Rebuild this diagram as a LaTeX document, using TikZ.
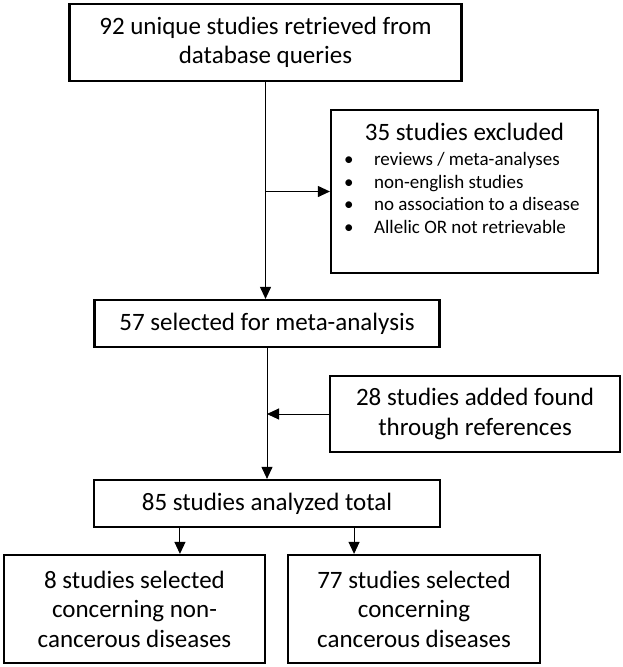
\documentclass[tikz,border=0pt]{standalone}
\usepackage{fontspec}
\setmainfont{Carlito}
\usetikzlibrary{arrows.meta,calc}
\begin{document}
\begin{tikzpicture}[x=1pt,y=-1pt,
  box/.style={draw, line width=2.2pt, inner sep=0pt, align=center, font=\fontsize{25}{29.5}\selectfont},
  conn/.style={line width=1pt, -{Triangle[length=12pt,width=11pt]}},
  item/.style={anchor=base west, inner sep=0pt, font=\fontsize{19}{22.7}\selectfont},
  ttl/.style={anchor=base, inner sep=0pt, font=\fontsize{25}{29.5}\selectfont}]
\fill[white] (0,0) rectangle (622,667);
\useasboundingbox (0,0) rectangle (622,667);
% boxes
\node[box, minimum width=392pt, minimum height=77.5pt] (b1) at (265.5,42.5) {92 unique studies retrieved from\\database queries};
\node[box, minimum width=267pt, minimum height=163pt] (excl) at (464.5,191.5) {};
\node[box, minimum width=345pt, minimum height=47pt] (b57) at (267,323.5) {57 selected for meta-analysis};
\node[box, minimum width=290pt, minimum height=76pt] (b28) at (475,414) {28 studies added found\\through references};
\node[box, minimum width=346pt, minimum height=47pt] (b85) at (267,503.5) {85 studies analyzed total};
\node[box, minimum width=261pt, minimum height=108pt] (b8) at (134.5,609) {8 studies selected\\concerning non-\\cancerous diseases};
\node[box, minimum width=252pt, minimum height=108pt] (b77) at (414,609) {77 studies selected\\concerning\\cancerous diseases};
% contents of excluded box
\node[ttl] (exT) at ($(excl.north)+(0,32)$) {35 studies excluded};
\node[item] (ex1) at ($(excl.north west)+(14,57)$) {\makebox[30pt][l]{\textbullet}reviews / meta-analyses};
\node[item] (ex2) at ($(excl.north west)+(14,79.5)$) {\makebox[30pt][l]{\textbullet}non-english studies};
\node[item] (ex3) at ($(excl.north west)+(14,102)$) {\makebox[30pt][l]{\textbullet}no association to a disease};
\node[item] (ex4) at ($(excl.north west)+(14,124.5)$) {\makebox[30pt][l]{\textbullet}Allelic OR not retrievable};
% connectors
\draw[conn] (b1.south) -- (b1.south |- b57.north);
\coordinate (j1) at (b1.south |- excl.west);
\draw[conn] (j1) -- (excl.west);
\draw[conn] (b28.west) -- (b28.west -| b57.south);
\draw[conn] (b57.south) -- (b57.south |- b85.north);
\coordinate (s1) at ($(b85.south west)!0.25!(b85.south east)$);
\coordinate (s2) at ($(b85.south west)!0.75!(b85.south east)$);
\draw[conn] (s1) -- (s1 |- b8.north);
\draw[conn] (s2) -- (s2 |- b77.north);
\end{tikzpicture}
\end{document}
